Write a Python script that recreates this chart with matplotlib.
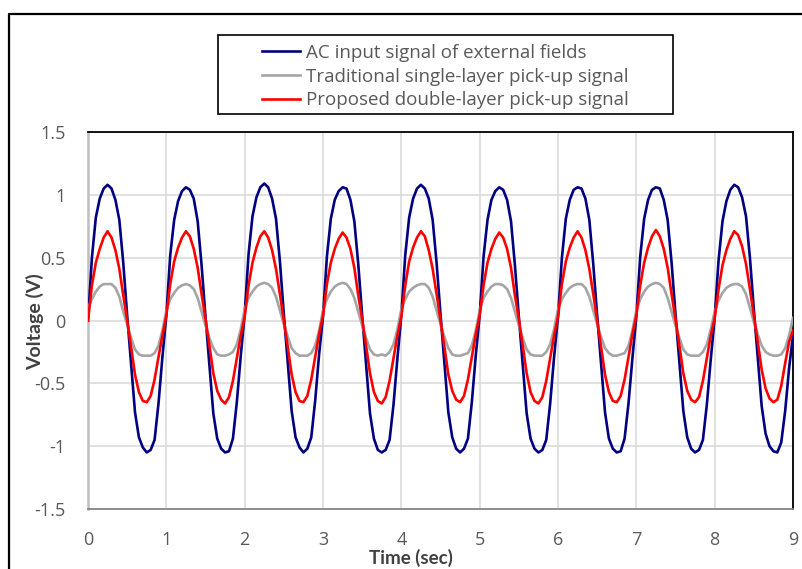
import numpy as np
import matplotlib
matplotlib.use("Agg")
import matplotlib.pyplot as plt
from matplotlib.lines import Line2D
from matplotlib.patches import Rectangle

# Scope samples every 0.05 s (one row per 1 s cycle, last value at t = 9 s)
time_sec = np.linspace(0, 9, 181)

ac_input = [
    0.00, 0.50, 0.82, 0.97, 1.05, 1.08, 1.05, 0.96, 0.80, 0.46, 0.04, -0.35, -0.73, -0.93, -1.01, -1.05, -1.03, -0.95, -0.66, -0.29,
    0.04, 0.52, 0.80, 0.95, 1.03, 1.06, 1.04, 0.97, 0.79, 0.44, 0.03, -0.36, -0.74, -0.94, -1.02, -1.05, -1.04, -0.94, -0.65, -0.28,
    0.05, 0.53, 0.83, 0.98, 1.06, 1.09, 1.06, 0.97, 0.81, 0.47, 0.05, -0.34, -0.72, -0.93, -1.01, -1.05, -1.02, -0.93, -0.64, -0.27,
    0.03, 0.51, 0.81, 0.96, 1.03, 1.06, 1.05, 0.96, 0.79, 0.45, 0.04, -0.35, -0.74, -0.94, -1.03, -1.05, -1.03, -0.95, -0.67, -0.30,
    0.04, 0.52, 0.82, 0.97, 1.05, 1.08, 1.05, 0.97, 0.80, 0.46, 0.05, -0.34, -0.73, -0.93, -1.02, -1.05, -1.02, -0.94, -0.65, -0.28,
    0.04, 0.51, 0.80, 0.96, 1.03, 1.06, 1.04, 0.96, 0.79, 0.44, 0.03, -0.36, -0.74, -0.94, -1.02, -1.05, -1.03, -0.95, -0.66, -0.29,
    0.03, 0.50, 0.81, 0.96, 1.04, 1.06, 1.05, 0.97, 0.80, 0.45, 0.04, -0.35, -0.73, -0.94, -1.02, -1.05, -1.04, -0.94, -0.66, -0.30,
    0.03, 0.51, 0.81, 0.96, 1.04, 1.06, 1.05, 0.96, 0.80, 0.46, 0.05, -0.34, -0.72, -0.93, -1.02, -1.05, -1.03, -0.95, -0.67, -0.31,
    0.02, 0.48, 0.79, 0.95, 1.04, 1.08, 1.06, 0.98, 0.83, 0.50, 0.09, -0.30, -0.68, -0.90, -1.00, -1.04, -1.05, -0.97, -0.72, -0.38,
    -0.12,
]

single_layer = [
    0.10, 0.17, 0.23, 0.27, 0.29, 0.29, 0.29, 0.26, 0.19, 0.07, -0.03, -0.14, -0.23, -0.27, -0.28, -0.28, -0.28, -0.26, -0.20, -0.08,
    0.08, 0.17, 0.22, 0.26, 0.28, 0.29, 0.28, 0.25, 0.18, 0.07, -0.04, -0.14, -0.22, -0.27, -0.28, -0.28, -0.27, -0.25, -0.19, -0.07,
    0.09, 0.18, 0.23, 0.27, 0.29, 0.30, 0.29, 0.26, 0.19, 0.08, -0.03, -0.13, -0.22, -0.26, -0.28, -0.28, -0.28, -0.26, -0.20, -0.08,
    0.08, 0.17, 0.23, 0.27, 0.29, 0.30, 0.29, 0.25, 0.18, 0.07, -0.04, -0.14, -0.23, -0.27, -0.28, -0.27, -0.28, -0.25, -0.19, -0.07,
    0.09, 0.17, 0.23, 0.26, 0.28, 0.29, 0.29, 0.26, 0.19, 0.08, -0.03, -0.13, -0.22, -0.27, -0.28, -0.28, -0.27, -0.26, -0.20, -0.08,
    0.08, 0.18, 0.23, 0.27, 0.29, 0.29, 0.28, 0.25, 0.18, 0.07, -0.04, -0.14, -0.23, -0.27, -0.28, -0.28, -0.28, -0.25, -0.19, -0.07,
    0.09, 0.17, 0.22, 0.26, 0.28, 0.29, 0.29, 0.26, 0.19, 0.08, -0.03, -0.13, -0.22, -0.26, -0.28, -0.28, -0.27, -0.26, -0.20, -0.08,
    0.08, 0.17, 0.23, 0.27, 0.29, 0.30, 0.29, 0.26, 0.18, 0.07, -0.04, -0.14, -0.23, -0.27, -0.28, -0.28, -0.28, -0.25, -0.19, -0.07,
    0.07, 0.16, 0.22, 0.26, 0.28, 0.29, 0.29, 0.27, 0.21, 0.10, -0.01, -0.11, -0.20, -0.25, -0.27, -0.28, -0.28, -0.27, -0.22, -0.12,
    0.02,
]

double_layer = [
    0.00, 0.28, 0.46, 0.57, 0.66, 0.71, 0.66, 0.56, 0.41, 0.20, 0.00, -0.21, -0.43, -0.57, -0.64, -0.65, -0.60, -0.47, -0.29, -0.12,
    0.04, 0.29, 0.47, 0.58, 0.66, 0.71, 0.67, 0.57, 0.42, 0.21, 0.01, -0.20, -0.42, -0.56, -0.63, -0.66, -0.61, -0.48, -0.30, -0.12,
    0.03, 0.28, 0.46, 0.58, 0.67, 0.71, 0.66, 0.56, 0.41, 0.21, 0.00, -0.21, -0.43, -0.57, -0.64, -0.65, -0.60, -0.47, -0.29, -0.11,
    0.04, 0.29, 0.46, 0.57, 0.65, 0.70, 0.66, 0.57, 0.42, 0.20, 0.01, -0.20, -0.42, -0.57, -0.64, -0.66, -0.61, -0.48, -0.30, -0.12,
    0.03, 0.28, 0.47, 0.58, 0.66, 0.71, 0.67, 0.56, 0.41, 0.21, 0.00, -0.21, -0.43, -0.56, -0.63, -0.65, -0.60, -0.47, -0.29, -0.11,
    0.04, 0.28, 0.46, 0.57, 0.65, 0.70, 0.66, 0.57, 0.42, 0.20, 0.01, -0.20, -0.42, -0.57, -0.64, -0.66, -0.61, -0.48, -0.30, -0.12,
    0.03, 0.29, 0.47, 0.58, 0.66, 0.71, 0.66, 0.56, 0.41, 0.21, 0.00, -0.21, -0.43, -0.57, -0.64, -0.65, -0.60, -0.47, -0.29, -0.11,
    0.04, 0.28, 0.46, 0.58, 0.67, 0.72, 0.67, 0.57, 0.42, 0.21, 0.01, -0.20, -0.42, -0.56, -0.63, -0.65, -0.61, -0.48, -0.30, -0.12,
    0.02, 0.25, 0.44, 0.56, 0.65, 0.71, 0.68, 0.59, 0.45, 0.25, 0.04, -0.17, -0.39, -0.54, -0.62, -0.65, -0.63, -0.52, -0.34, -0.17,
    -0.08,
]

series_labels = [
    "AC input signal of external fields",
    "Traditional single-layer pick-up signal",
    "Proposed double-layer pick-up signal",
]
series_colors = ["#000080", "#A5A5A5", "#FF0000"]

x_ticks = np.arange(0, 10, 1)
y_ticks = [-1.5, -1, -0.5, 0, 0.5, 1, 1.5]
y_tick_labels = ["-1.5", "-1", "-0.5", "0", "0.5", "1", "1.5"]


def pickup_plot(save_name):
    plt.rcParams["font.family"] = ["Open Sans", "DejaVu Sans"]
    W, H = 802, 569
    fig = plt.figure(figsize=(W / 100, H / 100), dpi=100)
    ax = fig.add_axes([88 / W, 1 - 509 / H, 705 / W, 377 / H])

    for values, label, color in zip([ac_input, single_layer, double_layer],
                                    series_labels, series_colors):
        ax.plot(time_sec, values, color=color, linewidth=1.9, label=label,
                solid_joinstyle="round", zorder=3)

    ax.set_xlim(0, 9)
    ax.set_ylim(-1.5, 1.5)
    ax.set_xticks(x_ticks)
    ax.set_yticks(y_ticks)
    ax.set_yticklabels(y_tick_labels)
    ax.tick_params(axis="both", length=0, labelsize=13, labelcolor="#595959")
    ax.tick_params(axis="x", pad=16)
    ax.tick_params(axis="y", pad=16)
    ax.grid(True, color="#D9D9D9", linewidth=1.1, zorder=0)
    ax.set_axisbelow(True)

    ax.spines["top"].set_color("black")
    ax.spines["right"].set_color("black")
    ax.spines["top"].set_linewidth(1.3)
    ax.spines["right"].set_linewidth(1.3)
    ax.spines["left"].set_color("#BFBFBF")
    ax.spines["left"].set_linewidth(1.8)
    ax.spines["bottom"].set_color("#868686")
    ax.spines["bottom"].set_linewidth(1.3)

    ax.set_xlabel("Time (sec)", fontsize=13.5, fontweight="bold", color="#404040",
                  va="center", family=["Lato", "DejaVu Sans"])
    ax.xaxis.set_label_coords((411 - 88) / 705, -(558 - 509) / 377)
    ax.set_ylabel("Voltage (V)", fontsize=14, fontweight="bold", color="#404040",
                  va="center", family=["Lato", "DejaVu Sans"])
    ax.yaxis.set_label_coords((35 - 88) / 705, (509 - 322) / 377)

    # Legend sits in its own box above the plot area
    fig.add_artist(Rectangle((218 / W, 1 - 114 / H), (673 - 218) / W, (114 - 35) / H,
                             transform=fig.transFigure, fill=False,
                             edgecolor="black", linewidth=1.2))
    leg = fig.legend(loc="upper left", bbox_to_anchor=(262 / W, 1 - 44 / H),
                     frameon=False, fontsize=13.5, borderpad=0, borderaxespad=0,
                     handlelength=2.0, handletextpad=0.35, labelspacing=0.3)
    for text in leg.get_texts():
        text.set_color("#595959")

    # Outer chart border (left and top edges)
    fig.add_artist(Line2D([9 / W, 9 / W, 1], [0, 1 - 14 / H, 1 - 14 / H],
                          transform=fig.transFigure, color="black", linewidth=1.6))

    plt.savefig(save_name, dpi=100)


def main():
    pickup_plot("out.png")


if __name__ == "__main__":
    main()
